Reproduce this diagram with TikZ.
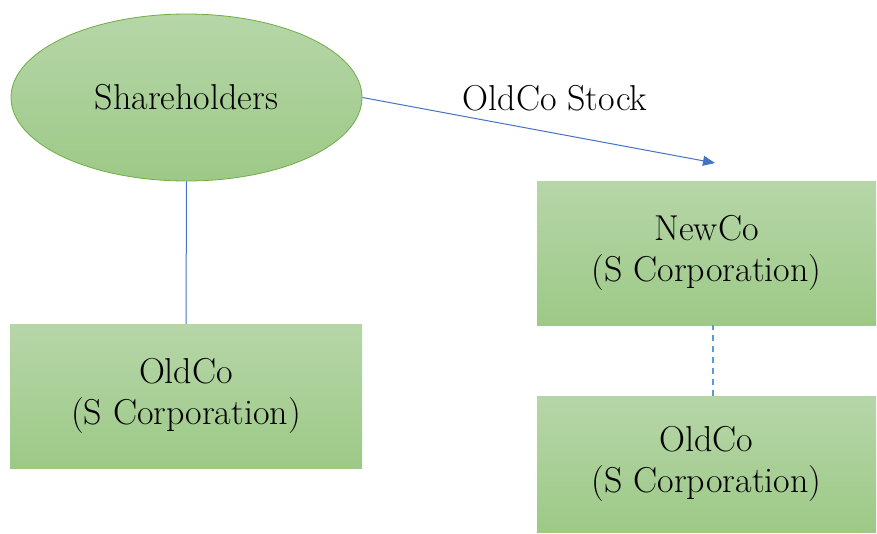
\documentclass[tikz,border=0pt]{standalone}
\usepackage{fontspec}
\usetikzlibrary{shapes.geometric,arrows.meta}
\definecolor{gtop}{HTML}{B6D6A8}
\definecolor{gbot}{HTML}{9DC987}
\definecolor{gedge}{HTML}{70AD47}
\definecolor{linkblue}{HTML}{4472C4}
\definecolor{dashblue}{HTML}{5B9BD5}
\tikzset{
  bigtext/.style={font=\fontsize{36}{41}\selectfont},
  greenfill/.style={top color=gtop, bottom color=gbot, draw=none},
  entity/.style={greenfill, rectangle, inner sep=0pt, align=center, bigtext},
  owner/.style={greenfill, ellipse, draw=gedge, line width=0.8pt, inner sep=0pt, bigtext},
  link/.style={draw=linkblue, line width=1pt},
}
\begin{document}
\begin{tikzpicture}[x=1pt,y=-1pt]
\useasboundingbox (0,0) rectangle (877,533);
\node[owner, minimum width=351pt, minimum height=167pt] (sh) at (186.5,97.5) {Shareholders};
\node[entity, minimum width=352pt, minimum height=144pt] (old1) at (186,396) {OldCo\\(S Corporation)};
\node[entity, minimum width=339pt, minimum height=144pt] (new) at (706.5,253) {NewCo\\(S Corporation)};
\node[entity, minimum width=339pt, minimum height=136pt] (old2) at (706.5,464) {OldCo\\(S Corporation)};
\coordinate (tip) at (715,163);
\draw[link] (sh.south) -- (old1.north);
\draw[link, -{Triangle[length=12pt,width=10pt]}] (sh.east) -- (tip);
\node[bigtext] (lbl) at (555,98) {OldCo Stock};
\draw[draw=dashblue, line width=1.2pt, dash pattern=on 6pt off 5pt] (old2.north -| 713,0) -- (new.south -| 713,0);
\end{tikzpicture}
\end{document}
